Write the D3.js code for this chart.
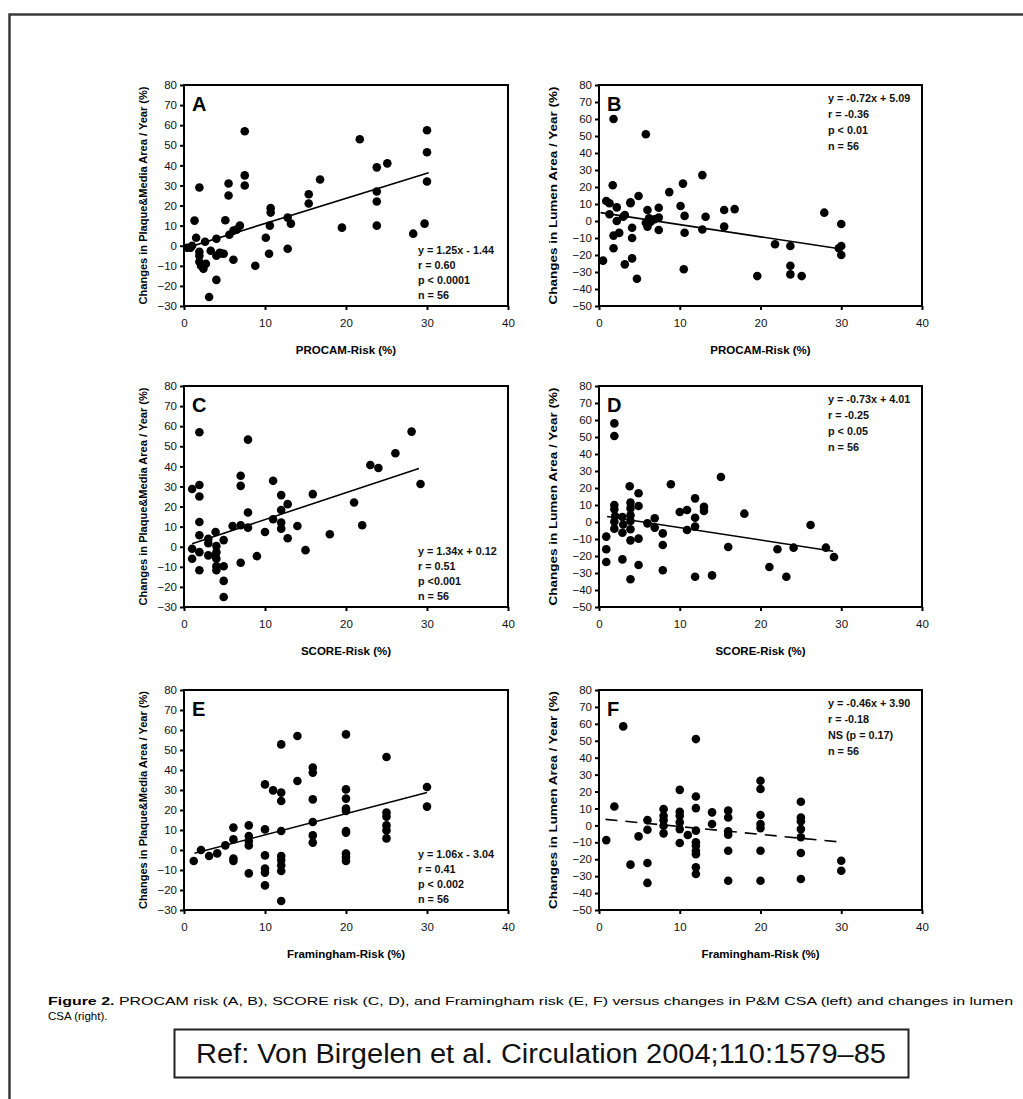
<!DOCTYPE html>
<html lang="en">
<head>
<meta charset="UTF-8">
<title>Figure 2 - risk scores vs plaque and lumen change</title>
<script src="https://d3js.org/d3.v7.min.js"></script>
<style>
    body { margin: 0; background: #fff; }
    svg { display: block; font-family: "Liberation Sans", Arial, sans-serif; }
    .tick text { font-size: 11.5px; fill: #111; }
    .domain { display: none; }
    .tick line { stroke: #000; stroke-width: 2; }
</style>
</head>
<body>
<svg width="1023" height="1099"></svg>
<script>
// ---- data ----
const xTicks = [0, 10, 20, 30, 40];
const yTicksLeft = [-30, -20, -10, 0, 10, 20, 30, 40, 50, 60, 70, 80];
const yTicksRight = [-50, -40, -30, -20, -10, 0, 10, 20, 30, 40, 50, 60, 70, 80];

// A: PROCAM vs plaque&media
const aX = [0.4, 0.8, 1.3, 1.5, 1.9, 1.9, 1.9, 1.9, 2.1, 2.4, 2.6, 3.1, 3.3, 4.0, 4.0, 4.0, 4.4, 4.9, 5.1, 5.5,
            5.5, 5.6, 6.1, 6.1, 6.5, 6.9, 7.5, 7.5, 7.5, 8.8, 10.1, 10.5, 10.6, 10.7, 10.7, 12.8, 12.8, 13.2, 15.4, 15.4,
            16.8, 19.5, 21.7, 23.8, 23.8, 23.8, 23.8, 25.1, 28.3, 29.7, 30, 30, 30, 2.7, 4.6, 1.0];
const aY = [-1, -1, 12.5, 4, 29, -3, -5, -8, -10, -11.5, 2, -25.5, -2.5, 3.5, -17, -5, -3.5, -4, 12.7, 31,
            25, 5.5, 7.5, -7, 8, 10, 57, 35, 30, -10, 4, -4, 10, 18.7, 16.5, 14, -1.5, 11, 25.6, 21,
            33, 9, 53, 39, 27, 22, 10, 41, 6, 11, 57.5, 46.5, 32, -9, -3.8, 0];

// B: PROCAM vs lumen
const bX = [0.5, 0.9, 1.3, 1.3, 1.8, 1.7, 1.8, 1.8, 2.2, 2.2, 2.5, 3.2, 3.2, 3.9, 3.9, 4.1, 4.1, 4.1, 4.9, 4.7,
            5.8, 6.0, 5.8, 6.0, 6.4, 7.4, 7.4, 7.4, 8.7, 10.1, 10.4, 10.5, 10.6, 10.6, 12.8, 12.8, 13.2, 15.5, 15.5, 16.8,
            21.8, 23.7, 23.7, 23.7, 25.1, 19.6, 27.9, 30, 29.7, 30, 30, 6.2, 6.9, 3.0];
const bY = [-23.3, 11.8, 10.4, 4, 60, 21, -8.6, -16, 8, 0, -7, 3.5, -25.5, 10.4, 11, -4, -10, -22, 14.7, -34,
            51, 6.5, -1, -3.3, -0.4, 7.8, 2, -5.3, 17, 8.8, 22, -28.4, 3, -6.9, 27, -5, 2.5, 6.5, -3.3, 7,
            -13.7, -14.7, -26.3, -31.4, -32.4, -32.4, 4.9, -1.8, -16, -14.7, -20, 1.6, 1, 2.5];

// C: SCORE vs plaque&media
const cX = [1, 1, 1, 1.9, 1.9, 1.9, 1.9, 1.9, 1.9, 1.9, 3, 3, 3, 3.9, 4, 4, 4, 4, 4, 4.9,
            4.9, 4.9, 4.9, 6, 7, 7, 7, 7, 7.9, 7.9, 7.9, 9, 10, 11, 11, 12, 12, 12, 12, 12.8,
            12.8, 14, 15, 15.9, 18, 21, 22, 23, 24, 26.1, 28.1, 29.2, 3.9];
const cY = [28.7, -1, -6, 57, 30.7, 25, 12.3, 5.7, -2.7, -11.7, 4, 1.7, -4.3, 7.3, 0.3, -2.7, -6, -9.7, -11.7, 3.3,
            -9.7, -17, -25, 10.3, 35.3, 30.3, 10.7, -8, 53.3, 17, 9.5, -4.7, 7.3, 32.8, 13.7, 25.7, 18.3, 12, 9, 21.2,
            4.2, 10.3, -1.7, 26.2, 6.2, 22, 10.7, 40.7, 39.2, 46.5, 57.3, 31.2, -4.7];

// D: SCORE vs lumen
const dX = [0.9, 0.9, 0.9, 1.9, 1.9, 1.9, 1.9, 1.9, 1.9, 2.9, 2.9, 2.9, 3.8, 3.9, 3.9, 3.9, 3.9, 3.9, 3.9, 3.9,
            4.9, 4.9, 4.9, 4.9, 6, 6.9, 6.9, 7.9, 7.9, 7.9, 8.9, 10, 10.9, 10.9, 11.9, 11.9, 11.9, 11.9, 13, 13,
            14, 15.1, 16, 18, 21.1, 22.1, 23.2, 24.1, 26.2, 28.1, 29.1, 2.0, 3.0];
const dY = [-8.6, -16, -23.5, 58, 50.6, 10, 7.5, 0.2, -3.9, 2.9, -6.3, -22, 21, 11.4, 8, 3.9, 0.6, -4.3, -10.8, -33.7,
            16.9, 9.4, -9.8, -25.3, -0.8, 2.2, -3.3, -6.7, -13.5, -28.4, 22.2, 5.9, 7.1, -4.7, 13.9, 2.5, -2.7, -32.2, 9, 6.5,
            -31.4, 26.5, -14.7, 4.9, -26.5, -16, -32.2, -15.1, -1.8, -15.1, -20.6, 3.5, -1.5];

// E: Framingham vs plaque&media
const eX = [1.2, 2.1, 3.1, 4.1, 5.1, 6.1, 6.1, 6.1, 6.1, 8, 8, 8, 8, 8, 10, 10, 10, 10, 10, 10,
            11, 12, 12, 12, 12, 12, 12, 12, 12, 12, 14, 14, 15.9, 15.9, 15.9, 15.9, 15.9, 15.9, 20, 20,
            20, 20, 20, 20, 20, 20, 20, 25, 25, 25, 25, 25, 25, 30, 30, 20];
const eY = [-5.5, 0, -3, -1.7, 2.3, 11.2, 5.3, -4.3, -5.5, 12.3, 7, 4.5, 2.3, -11.7, 32.8, 10.3, -2.7, -9.3, -11.3, -17.7,
            29.8, 52.8, 28.7, 24.5, 9.5, -3, -5, -7.7, -10.5, -25.5, 57, 34.5, 41.2, 38.7, 25.3, 14, 7.3, 3.7, 57.8, 30.3,
            25.7, 20.7, 19.5, 9.5, 8.7, -1.8, -5.5, 46.5, 18.7, 16.7, 12.3, 9.8, 5.8, 31.5, 21.7, -3.5];

// F: Framingham vs lumen
const fX = [0.9, 1.9, 3, 3.9, 4.9, 6, 6, 6, 6, 8, 8, 8, 8, 8, 10, 10, 10, 10, 10, 10,
            11, 12, 12, 12, 12, 12, 12, 12, 12, 12, 12, 14, 14, 16, 16, 16, 16, 16, 16, 20,
            20, 20, 20, 20, 20, 20, 25, 25, 25, 25, 25, 25, 25, 30, 30];
const fY = [-8.7, 11.2, 58.5, -23.2, -6.5, 3.1, -2.6, -22.2, -34, 9.6, 5.7, 3.1, -0.2, -4.7, 21, 8, 5.7, 1.8, -2.2, -10.4,
            -5.7, 51, 17.1, 10.2, -3.1, -10, -12, -15, -17, -24.8, -28.7, 7.7, 0.8, 8.7, 4.7, -3.5, -5.5, -15, -32.7, 26.4,
            21.5, 6.1, 0.8, -1.6, -15, -32.7, 14, 4.7, 2.4, -2.2, -7, -16.3, -31.7, -20.9, -26.8];

// regression lines: slope, intercept, x range
const fits = {
    A: [1.25, -1.44, 0.2, 30.2], B: [-0.72, 5.09, 0.2, 30], C: [1.34, 0.12, 1, 29],
    D: [-0.73, 4.01, 1, 29], E: [1.06, -3.04, 1.3, 30], F: [-0.46, 3.90, 0.8, 30]
};

const stats = {
    A: ["y = 1.25x - 1.44", "r = 0.60", "p < 0.0001", "n = 56"],
    B: ["y = -0.72x + 5.09", "r = -0.36", "p < 0.01", "n = 56"],
    C: ["y = 1.34x + 0.12", "r = 0.51", "p <0.001", "n = 56"],
    D: ["y = -0.73x + 4.01", "r = -0.25", "p < 0.05", "n = 56"],
    E: ["y = 1.06x - 3.04", "r = 0.41", "p < 0.002", "n = 56"],
    F: ["y = -0.46x + 3.90", "r = -0.18", "NS (p = 0.17)", "n = 56"]
};

const xTitles = ["PROCAM-Risk (%)", "SCORE-Risk (%)", "Framingham-Risk (%)"];
const yTitleLeft = "Changes in Plaque&Media Area / Year (%)";
const yTitleRight = "Changes in Lumen Area / Year (%)";

// ---- layout ----
const svg = d3.select("svg");
const cols = [[184, 508], [599, 922]];
const rows = [[85, 306], [386, 607], [690, 910]];

// outer frame, runs off the right and bottom of the picture
svg.append("path")
    .attr("d", "M9.5,1110 V14.5 H1040")
    .attr("fill", "none")
    .attr("stroke", "#3a3a3a")
    .attr("stroke-width", 2.5);

const panels = [
    {id: "A", xs: aX, ys: aY, col: 0, row: 0},
    {id: "B", xs: bX, ys: bY, col: 1, row: 0},
    {id: "C", xs: cX, ys: cY, col: 0, row: 1},
    {id: "D", xs: dX, ys: dY, col: 1, row: 1},
    {id: "E", xs: eX, ys: eY, col: 0, row: 2},
    {id: "F", xs: fX, ys: fY, col: 1, row: 2}
];

panels.forEach(p => {
    const [x0, x1] = cols[p.col];
    const [y0, y1] = rows[p.row];
    const left = p.col === 0;
    const x = d3.scaleLinear().domain([0, 40]).range([x0, x1]);
    const y = d3.scaleLinear().domain(left ? [-30, 80] : [-50, 80]).range([y1, y0]);
    const g = svg.append("g");

    g.append("g")
        .attr("transform", `translate(0,${y1})`)
        .call(d3.axisBottom(x).tickValues(xTicks).tickSize(4).tickPadding(9));
    g.append("g")
        .attr("transform", `translate(${x0},0)`)
        .call(d3.axisLeft(y).tickValues(left ? yTicksLeft : yTicksRight).tickSize(4).tickPadding(3));

    // frame
    g.append("rect")
        .attr("x", x0).attr("y", y0)
        .attr("width", x1 - x0).attr("height", y1 - y0)
        .attr("fill", "none").attr("stroke", "#000").attr("stroke-width", 2);

    // points
    g.append("g").selectAll("circle")
        .data(p.xs.map((v, i) => [v, p.ys[i]]))
        .join("circle")
        .attr("cx", d => x(d[0]))
        .attr("cy", d => y(d[1]))
        .attr("r", 4.3)
        .attr("fill", "#000");

    // fit
    const [m, b, fa, fb] = fits[p.id];
    g.append("line")
        .attr("x1", x(fa)).attr("y1", y(m * fa + b))
        .attr("x2", x(fb)).attr("y2", y(m * fb + b))
        .attr("stroke", "#000")
        .attr("stroke-width", 1.6)
        .attr("stroke-dasharray", p.id === "F" ? "12,8" : null);

    // panel letter
    g.append("text")
        .attr("x", x0 + 8).attr("y", y0 + 26)
        .attr("font-size", 20).attr("font-weight", "bold")
        .text(p.id);

    // stats block: bottom right on the left column, top right on the right column
    const st = g.append("text")
        .attr("font-size", 10.8).attr("font-weight", "bold").attr("fill", "#111");
    stats[p.id].forEach((s, i) => {
        st.append("tspan")
            .attr("x", left ? 418 : 828)
            .attr("y", left ? y1 - 52 + i * 15 : y0 + 17 + i * 16)
            .text(s);
    });

    // axis titles
    g.append("text")
        .attr("x", (x0 + x1) / 2).attr("y", y1 + 48)
        .attr("text-anchor", "middle")
        .attr("font-size", 11.5).attr("font-weight", "bold")
        .text(xTitles[p.row]);
    const yc = (y0 + y1) / 2, xc = left ? 143 : 553;
    g.append("text")
        .attr("transform", `translate(${xc},${yc}) rotate(-90)`)
        .attr("text-anchor", "middle")
        .attr("dy", "0.35em")
        .attr("font-size", 11).attr("font-weight", "bold")
        .attr("textLength", 218).attr("lengthAdjust", "spacingAndGlyphs")
        .text(left ? yTitleLeft : yTitleRight);
});

// caption
const cap = svg.append("text")
    .attr("x", 48).attr("y", 1005)
    .attr("font-size", 11.5)
    .attr("textLength", 965).attr("lengthAdjust", "spacingAndGlyphs");
cap.append("tspan").attr("font-weight", "bold").text("Figure 2.");
cap.append("tspan").text(" PROCAM risk (A, B), SCORE risk (C, D), and Framingham risk (E, F) versus changes in P&M CSA (left) and changes in lumen");
svg.append("text")
    .attr("x", 48).attr("y", 1020)
    .attr("font-size", 11.5)
    .text("CSA (right).");

// reference box
svg.append("rect")
    .attr("x", 174.5).attr("y", 1029.5)
    .attr("width", 734).attr("height", 48)
    .attr("fill", "none").attr("stroke", "#222").attr("stroke-width", 2);
svg.append("text")
    .attr("x", 541).attr("y", 1063)
    .attr("text-anchor", "middle")
    .attr("font-family", "'Liberation Sans Narrow', 'Arial Narrow', 'Liberation Sans', Arial, sans-serif")
    .attr("font-size", 27)
    .attr("fill", "#111")
    .attr("textLength", 690).attr("lengthAdjust", "spacingAndGlyphs")
    .text("Ref: Von Birgelen et al. Circulation 2004;110:1579\u201385");
</script>
</body>
</html>
